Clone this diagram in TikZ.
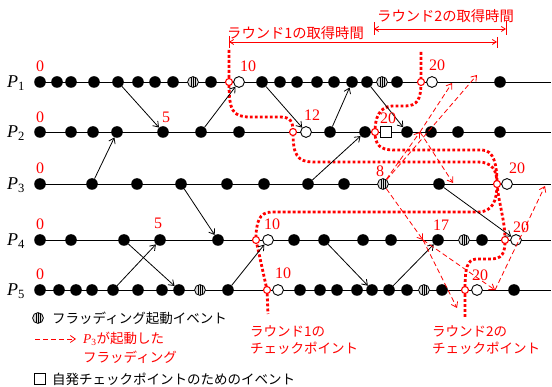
\documentclass[tikz,border=0pt]{standalone}
\usepackage{fontspec}
\setmainfont{Liberation Serif}
\newfontfamily\jp{Noto Sans CJK JP}
\usetikzlibrary{arrows.meta}
\begin{document}
\begin{tikzpicture}[x=1pt,y=-1pt,
 dot/.style={circle,fill=black,inner sep=0pt,minimum size=11.6pt},
 opn/.style={circle,draw=black,fill=white,line width=0.9pt,inner sep=0pt,minimum size=10.8pt},
 stripe/.style={circle,draw=black,fill=gray!30,line width=0.8pt,inner sep=0pt,minimum size=10.8pt,
   path picture={\foreach \d in {-2.2,0,2.2}{\draw[line width=0.6pt] ([xshift=\d pt]path picture bounding box.north) -- ([xshift=\d pt]path picture bounding box.south);}}},
 ck/.style={circle,draw=red,fill=white,line width=1.1pt,inner sep=0pt,minimum size=7pt},
 sq/.style={rectangle,draw=black,fill=white,line width=0.9pt,inner sep=0pt,minimum size=11pt},
 msg/.style={-{Straight Barb[length=5pt,width=7pt]},line width=0.8pt},
 flood/.style={red,-{Straight Barb[length=5pt,width=7pt]},line width=0.8pt,dash pattern=on 5pt off 3pt},
 ckline/.style={red,line width=2.8pt,dash pattern=on 2.8pt off 2.2pt},
 brk/.style={red,line width=0.8pt},
 num/.style={red,font=\fontsize{16}{16}\selectfont,inner sep=0pt},
 plab/.style={font=\fontsize{18}{18}\selectfont,inner sep=0pt},
 jtxt/.style={font=\jp\fontsize{13.5}{17}\selectfont,inner sep=0pt,anchor=west},
 jtop/.style={font=\jp\fontsize{14.3}{17}\selectfont,inner sep=0pt,anchor=west,red},
 proc/.style={line width=0.9pt},
]
\useasboundingbox (0,0) rectangle (552,387);

% process lines
\foreach \y in {82,132,184,240,290}{\draw[proc] (40,\y) -- (551,\y);}

% checkpoint coordinates
\coordinate (c1a) at (229,82);  \coordinate (c1b) at (421,82);
\coordinate (c2a) at (293,132); \coordinate (c2b) at (375,132);
\coordinate (c3)  at (497,184);
\coordinate (c4a) at (256,240); \coordinate (c4b) at (505,240);
\coordinate (c5a) at (267,290); \coordinate (c5b) at (465,290);
\coordinate (r1top) at (229,50); \coordinate (r1bot) at (268,314);
\coordinate (r2top) at (421,52); \coordinate (r2bot) at (465,318);

% round 1 checkpoint line
\draw[ckline] (r1top) -- (c1a) .. controls (229,110) and (232,117) .. (250,117) -- (280,117)
  .. controls (291,117) and (293,122) .. (c2a)
  .. controls (293,155) and (297,162) .. (314,162) -- (478,162)
  .. controls (492,162) and (497,170) .. (c3)
  .. controls (497,200) and (493,212) .. (478,212) -- (272,212)
  .. controls (259,212) and (256,222) .. (c4a) -- (c5a) -- (r1bot);
% round 2 checkpoint line
\draw[ckline] (r2top) -- (c1b) .. controls (421,100) and (417,106) .. (405,106) -- (392,106)
  .. controls (379,107) and (375,118) .. (c2b)
  .. controls (375,145) and (380,150) .. (394,150) -- (482,150)
  .. controls (494,150) and (497,165) .. (c3)
  .. controls (499,205) and (505,220) .. (c4b)
  .. controls (505,254) and (502,259) .. (490,259) -- (476,259)
  .. controls (467,260) and (465,268) .. (c5b) -- (r2bot);

% brackets
\coordinate (b1l) at (229,42); \coordinate (b1r) at (497,42);
\coordinate (b2l) at (374,29); \coordinate (b2r) at (506,29);
\draw[brk] (229,36) -- (229,48); \draw[brk] (497,37) -- (497,48);
\draw[brk,{Straight Barb[length=4pt,width=5pt]}-{Straight Barb[length=4pt,width=5pt]}] (b1l) -- (b1r);
\draw[brk] (374,22) -- (374,35); \draw[brk] (506,21) -- (506,35);
\draw[brk,{Straight Barb[length=4pt,width=5pt]}-{Straight Barb[length=4pt,width=5pt]}] (b2l) -- (b2r);
\node[jtop] (t1) at (227,33) {ラウンド1の取得時間};
\node[jtop] (t2) at (377,16) {ラウンド2の取得時間};

% P labels
\node[plab] (P1) at (16,83) {\textit{P}\textsubscript{1}};
\node[plab] (P2) at (16,133) {\textit{P}\textsubscript{2}};
\node[plab] (P3) at (16,185) {\textit{P}\textsubscript{3}};
\node[plab] (P4) at (16,241) {\textit{P}\textsubscript{4}};
\node[plab] (P5) at (16,291) {\textit{P}\textsubscript{5}};

% events
\foreach \x in {40,57,71,94,118,138,155,173,211,262,280,297,317,334,352,367,397,500}
  \node[dot] (a1-\x) at (\x,82) {};
\foreach \x in {40,71,93,117,163,201,239,330,365,407,431,458,500}
  \node[dot] (a2-\x) at (\x,132) {};
\foreach \x in {40,92,137,181,227,264,308,344,439}
  \node[dot] (a3-\x) at (\x,184) {};
\foreach \x in {40,71,124,160,218,294,324,363,391,438,482}
  \node[dot] (a4-\x) at (\x,240) {};
\foreach \x in {40,59,76,92,113,138,162,179,228,300,320,337,357,372,389,407,442,514}
  \node[dot] (a5-\x) at (\x,290) {};

\node[stripe] (s1-193) at (193,82) {};
\node[stripe] (s1-382) at (382,82) {};
\node[stripe] (s3-383) at (383,184) {};
\node[stripe] (s4-464) at (464,240) {};
\node[stripe] (s5-200) at (200,290) {};
\node[stripe] (s5-424) at (424,290) {};

\node[opn] (o1-239) at (239,82) {};
\node[opn] (o1-432) at (432,82) {};
\node[opn] (o2-306) at (306,132) {};
\node[opn] (o3-507) at (507,184) {};
\node[opn] (o4-268) at (268,240) {};
\node[opn] (o4-516) at (516,240) {};
\node[opn] (o5-278) at (278,290) {};
\node[opn] (o5-477) at (477,290) {};

\node[sq] (q2-386) at (386,132) {};

\foreach \c in {c1a,c1b,c2a,c2b,c3,c4a,c4b,c5a,c5b}
  \node[ck] (n\c) at (\c) {};

% messages
\draw[msg] (a1-118) -- (a2-163);
\draw[msg] (a3-92) -- (a2-117);
\draw[msg] (a2-201) -- (o1-239);
\draw[msg] (a1-262) -- (o2-306);
\draw[msg] (a2-330) -- (a1-352);
\draw[msg] (a3-308) -- (a2-365);
\draw[msg] (a1-367) -- (a2-407);
\draw[msg] (a3-181) -- (a4-218);
\draw[msg] (a4-124) -- (a5-179);
\draw[msg] (a5-113) -- (a4-160);
\draw[msg] (a5-228) -- (o4-268);
\draw[msg] (a4-324) -- (a5-372);
\draw[msg] (a5-389) -- (a4-438);
\draw[msg] (a3-439) -- (o4-516);

% flooding by P3
\coordinate (f2) at (420,132);
\coordinate (f4) at (423,240);
\coordinate (f5) at (495,290);
\coordinate (g1a) at (452,83);
\coordinate (g1b) at (477,75);
\coordinate (g3a) at (453,183);
\coordinate (g5a) at (457,308);
\coordinate (g3b) at (545,186);
\draw[flood] (s3-383) -- (f2);
\draw[flood] (f2) -- (g1a);
\draw[flood] (s3-383) -- (g1b);
\draw[flood] (f2) -- (g3a);
\draw[flood] (s3-383) -- (f4);
\draw[flood] (f4) -- (g5a);
\draw[flood] (f4) -- (f5);
\draw[flood] (f5) -- (g3b);

% numbers
\node[num] at (40,66) {0};   \node[num] at (248,66) {10};  \node[num] at (437,65) {20};
\node[num] at (40,117) {0};  \node[num] at (166,117) {5};  \node[num] at (312,115) {12}; \node[num] at (388,118) {20};
\node[num] at (40,168) {0};  \node[num] at (380,171) {8};  \node[num] at (517,168) {20};
\node[num] at (40,224) {0};  \node[num] at (158,223) {5};  \node[num] at (272,224) {10}; \node[num] at (441,225) {17}; \node[num] at (521,227) {20};
\node[num] at (40,274) {0};  \node[num] at (283,273) {10}; \node[num] at (480,275) {20};

% legend
\node[stripe] (ls) at (38,318) {};
\node[jtxt] (lt1) at (52,318) {フラッディング起動イベント};
\coordinate (lda) at (35,339); \coordinate (ldb) at (76,339);
\draw[flood] (lda) -- (ldb);
\node[jtxt,red] (lt2) at (83,339) {{\rmfamily\itshape P}\textsubscript{\rmfamily 3}が起動した};
\node[jtxt,red] (lt3) at (83,357) {フラッディング};
\node[sq] (lq) at (40,379) {};
\node[jtxt] (lt4) at (52,379) {自発チェックポイントのためのイベント};
\node[jtxt,red,align=left] (lr1) at (250,340) {ラウンド1の\\チェックポイント};
\node[jtxt,red,align=left] (lr2) at (432,340) {ラウンド2の\\チェックポイント};
\end{tikzpicture}
\end{document}
